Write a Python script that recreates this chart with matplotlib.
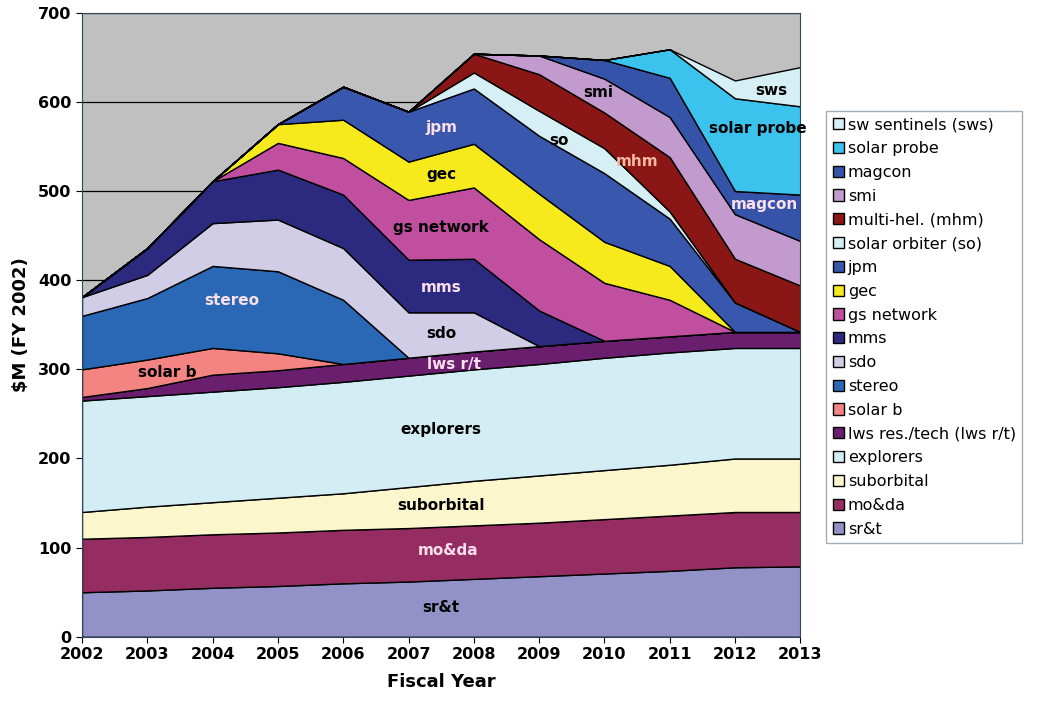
import matplotlib.pyplot as plt
from matplotlib.patches import Patch

# fiscal years
years = [2002, 2003, 2004, 2005, 2006, 2007, 2008, 2009, 2010, 2011, 2012, 2013]

# budget per line item, $M (FY 2002), bottom of the stack first
srt         = [50, 52, 55, 57, 60, 62, 65, 68, 71, 74, 78, 79]
moda        = [60, 60, 60, 60, 60, 60, 60, 60, 61, 62, 62, 61]
suborbital  = [30, 34, 36, 39, 41, 46, 50, 53, 55, 57, 60, 60]
explorers   = [125, 124, 124, 124, 125, 125, 125, 125, 126, 126, 124, 124]
lws_rt      = [4, 9, 19, 19, 20, 20, 20, 20, 19, 18, 18, 18]
solar_b     = [31, 32, 30, 19, 0, 0, 0, 0, 0, 0, 0, 0]
stereo      = [60, 69, 92, 92, 72, 0, 0, 0, 0, 0, 0, 0]
sdo         = [21, 26, 48, 58, 58, 51, 44, 0, 0, 0, 0, 0]
mms         = [0, 30, 47, 56, 60, 59, 60, 40, 0, 0, 0, 0]
gs_network  = [0, 0, 0, 30, 41, 67, 80, 80, 65, 41, 0, 0]
gec         = [0, 0, 0, 21, 43, 43, 49, 51, 46, 38, 0, 0]
jpm         = [0, 0, 0, 0, 37, 56, 62, 65, 77, 53, 33, 0]
so          = [0, 0, 0, 0, 0, 0, 18, 28, 28, 8, 0, 0]
mhm         = [0, 0, 0, 0, 0, 0, 21, 41, 40, 61, 49, 52]
smi         = [0, 0, 0, 0, 0, 0, 0, 21, 38, 45, 50, 50]
magcon      = [0, 0, 0, 0, 0, 0, 0, 0, 21, 44, 26, 52]
solar_probe = [0, 0, 0, 0, 0, 0, 0, 0, 0, 32, 104, 99]
sws         = [0, 0, 0, 0, 0, 0, 0, 0, 0, 0, 20, 44]

series = [srt, moda, suborbital, explorers, lws_rt, solar_b, stereo, sdo, mms,
          gs_network, gec, jpm, so, mhm, smi, magcon, solar_probe, sws]
legend_names = ['sr&t', 'mo&da', 'suborbital', 'explorers', 'lws res./tech (lws r/t)',
                'solar b', 'stereo', 'sdo', 'mms', 'gs network', 'gec', 'jpm',
                'solar orbiter (so)', 'multi-hel. (mhm)', 'smi', 'magcon',
                'solar probe', 'sw sentinels (sws)']
colors = ['#9292c9', '#962d62', '#fbf6cb', '#d3edf4', '#6a1f6e', '#f48482',
          '#2a68b6', '#d1cde6', '#2b2a7e', '#c04f9f', '#f6ea1c', '#3857ad',
          '#d6eff4', '#8b1616', '#c29acd', '#3553a8', '#3bc3ee', '#d6eff4']

# in-chart labels: text, x, y, text colour
labels = [('sr&t', 2007.5, 33, 'black'), ('mo&da', 2007.6, 97, '#fbe0ec'),
          ('suborbital', 2007.5, 147, 'black'), ('explorers', 2007.5, 233, 'black'),
          ('lws r/t', 2007.7, 305, '#fbe0ec'), ('solar b', 2003.3, 297, 'black'),
          ('stereo', 2004.3, 377, '#fbe0ec'), ('sdo', 2007.5, 340, 'black'),
          ('mms', 2007.5, 392, '#fbe0ec'), ('gs network', 2007.5, 459, 'black'),
          ('gec', 2007.5, 518, 'black'), ('jpm', 2007.5, 571, '#fbe0ec'),
          ('so', 2009.3, 557, 'black'), ('smi', 2009.9, 610, 'black'),
          ('mhm', 2010.5, 533, '#f7b9a0'), ('magcon', 2012.45, 485, '#fbe0ec'),
          ('solar probe', 2012.35, 570, 'black'), ('sws', 2012.55, 613, 'black')]

fig = plt.figure(figsize=(10.38, 7.06), dpi=100)
ax = fig.add_axes([0.079, 0.098, 0.692, 0.884])
ax.set_facecolor('#c0c0c0')

ax.stackplot(years, series, colors=colors, edgecolor='black', linewidth=1.0)

for txt, x, y, c in labels:
    ax.text(x, y, txt, ha='center', va='center', fontsize=11, fontweight='bold', color=c)

ax.set_xlim(2002, 2013)
ax.set_ylim(0, 700)
ax.set_xticks(years)
ax.set_yticks(range(0, 701, 100))
ax.yaxis.grid(True, color='black', linewidth=0.9)
ax.set_axisbelow(True)
ax.tick_params(labelsize=11.5, length=4)
for t in ax.get_xticklabels() + ax.get_yticklabels():
    t.set_fontweight('bold')
for s in ax.spines.values():
    s.set_color('#2e4a5a')

ax.set_xlabel('Fiscal Year', fontsize=13, fontweight='bold', labelpad=8)
ax.set_ylabel('\\$M (FY 2002)', fontsize=13, fontweight='bold', labelpad=6)

handles = [Patch(facecolor=c, edgecolor='black', label=n) for c, n in zip(colors, legend_names)]
leg = fig.legend(handles=handles[::-1], loc='upper left', bbox_to_anchor=(0.796, 0.843),
                 borderaxespad=0, fontsize=11.5, frameon=True, fancybox=False,
                 edgecolor='#8a9aa6', handlelength=0.7, handleheight=0.7,
                 handletextpad=0.25, labelspacing=0.55, borderpad=0.4)
leg.get_frame().set_linewidth(1.0)

fig.savefig('out.png', dpi=100)
